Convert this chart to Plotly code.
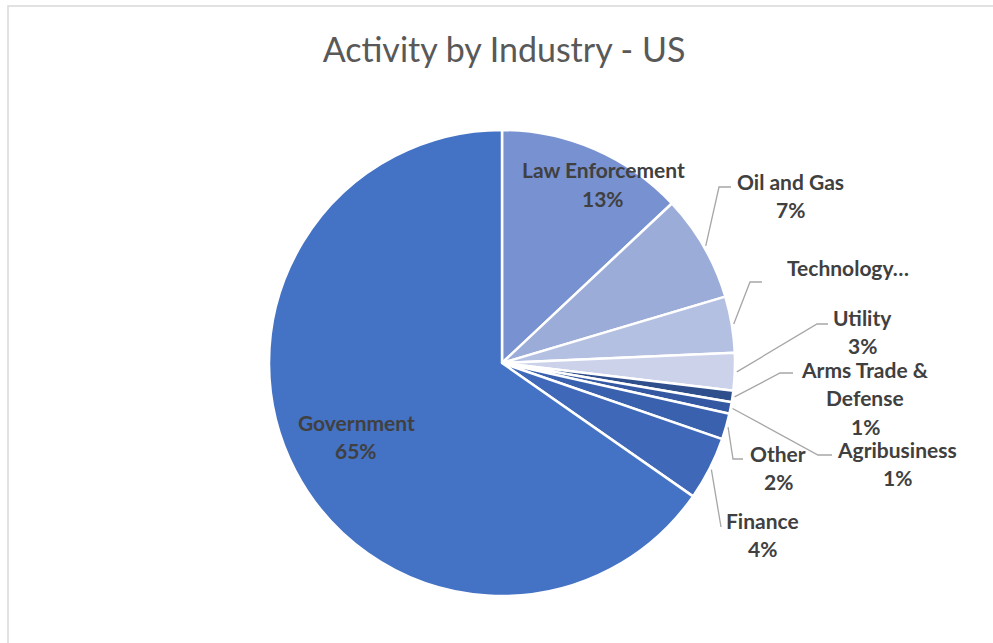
import math
import plotly.graph_objects as go

W, H = 993, 643

industries = ["Law Enforcement", "Oil and Gas", "Technology", "Utility",
              "Arms Trade & Defense", "Agribusiness", "Other", "Finance", "Government"]
shares = [13.0, 7.4, 3.9, 2.6, 0.8, 0.8, 1.8, 4.4, 65.3]
label_texts = ["Law Enforcement", "Oil and Gas", "Technology…", "Utility",
               "Arms Trade &<br>Defense", "Agribusiness", "Other", "Finance", "Government"]
show_pct = [True, True, False, True, True, True, True, True, True]
colors = ["#7891D0", "#9BACD8", "#B4C0E1", "#CBD2EA", "#2E4E8C",
          "#3558A2", "#3A61AE", "#3F68B9", "#4472C4"]

# layout of the pie (pixels)
CX, CY, R = 502, 363, 233

# label layout: (label centre x, y of first line, leader elbow, leader end) in pixels
label_layout = {
    "Law Enforcement": dict(x=603, y=170, inside=True),
    "Government": dict(x=356, y=422, inside=True),
    "Oil and Gas": dict(x=790, y=181, elbow=(719, 187), end=(731, 187)),
    "Technology": dict(x=848, y=267, elbow=(750, 282), end=(762, 282)),
    "Utility": dict(x=862, y=317, elbow=(817, 324), end=(828, 324)),
    "Arms Trade & Defense": dict(x=865, y=369, elbow=(780, 373), end=(793, 373)),
    "Agribusiness": dict(x=897, y=449, elbow=(818, 455), end=(832, 455)),
    "Other": dict(x=778, y=453, elbow=(733, 459), end=(743, 459)),
    "Finance": dict(x=762, y=520, elbow=(721, 527), end=(721, 527)),
}

def px(x):
    return x / W

def py(y):
    return 1 - y / H

fig = go.Figure(go.Pie(
    labels=industries,
    values=shares,
    sort=False,
    direction="clockwise",
    rotation=0,
    marker=dict(colors=colors, line=dict(color="white", width=2.5)),
    textinfo="none",
    hoverinfo="label+percent",
    showlegend=False,
    domain=dict(x=[px(CX - R), px(CX + R)], y=[py(CY + R), py(CY - R)]),
))

LINE_H = 28.5
font = dict(family="Lato", size=21, color="#404040")
annotations = []
shapes = []
total = sum(shares)
cum = 0.0
for name, val, txt, pct in zip(industries, shares, label_texts, show_pct):
    mid = (cum + val / 2) / total * 2 * math.pi
    cum += val
    lay = label_layout[name]
    lines = txt.split("<br>")
    if pct:
        lines.append(f"{round(val / total * 100):.0f}%")
    for i, ln in enumerate(lines):
        annotations.append(dict(
            x=px(lay["x"]), y=py(lay["y"] + i * LINE_H), xref="paper", yref="paper",
            text=f"<b>{ln}</b>", showarrow=False, font=font,
            xanchor="center", yanchor="middle"))
    if not lay.get("inside"):
        sx = CX + (R + 2) * math.sin(mid)
        sy = CY - (R + 2) * math.cos(mid)
        ex, ey = lay["elbow"]
        fx, fy = lay["end"]
        path = f"M {px(sx)},{py(sy)} L {px(ex)},{py(ey)} L {px(fx)},{py(fy)}"
        shapes.append(dict(type="path", xref="paper", yref="paper", path=path,
                           line=dict(color="#A6A6A6", width=1.3)))

# chart frame
shapes.append(dict(type="rect", xref="paper", yref="paper",
                   x0=px(8), y0=-0.1, x1=1.1, y1=py(6),
                   line=dict(color="#D9D9D9", width=1.5), fillcolor="rgba(0,0,0,0)"))

fig.update_layout(
    width=W, height=H,
    margin=dict(l=0, r=0, t=0, b=0),
    paper_bgcolor="white",
    title=dict(text="Activity by Industry - US", x=px(504), y=py(50),
               xanchor="center", yanchor="middle",
               font=dict(family="Lato", size=34, color="#595959")),
    annotations=annotations,
    shapes=shapes,
)

fig.write_html("out.html", config={"displayModeBar": False},
               post_script="document.body.style.margin='0';document.body.style.padding='0';")
